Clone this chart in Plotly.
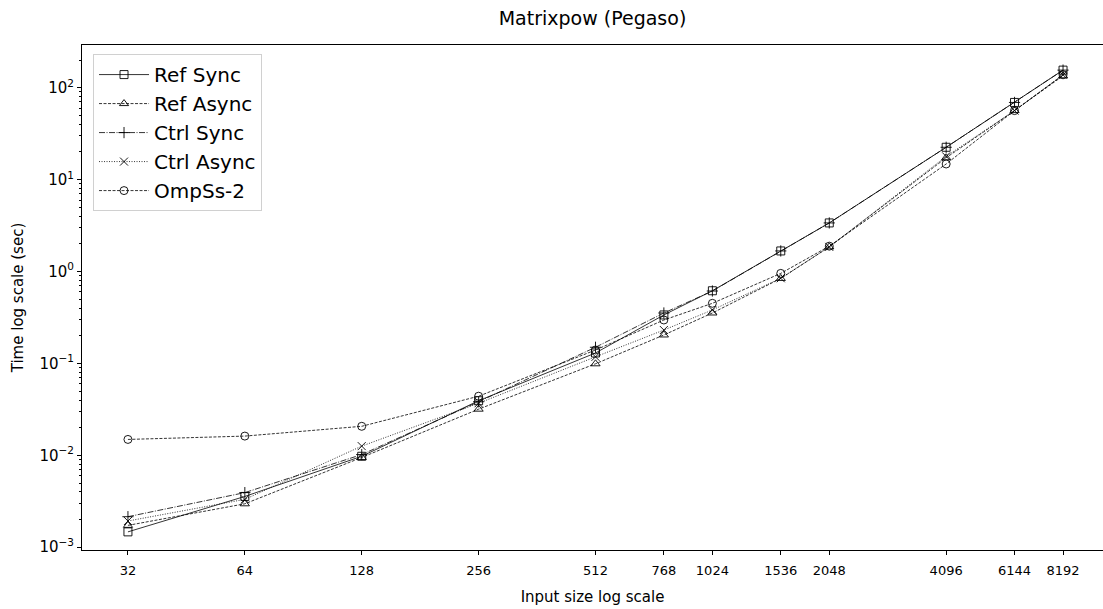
import plotly.graph_objects as go

sizes = [32, 64, 128, 256, 512, 768, 1024, 1536, 2048, 4096, 6144, 8192]
size_labels = [str(s) for s in sizes]

ref_sync = [1.47e-3, 3.57e-3, 9.77e-3, 0.0393, 0.130, 0.337, 0.618, 1.675, 3.38, 22.5, 69.2, 155.5]
ref_async = [1.73e-3, 2.97e-3, 9.48e-3, 0.0318, 0.0991, 0.204, 0.354, 0.841, 1.853, 17.3, 56.4, 134.9]
ctrl_sync = [2.15e-3, 3.93e-3, 0.0102, 0.0383, 0.150, 0.354, 0.614, 1.675, 3.38, 22.5, 69.2, 155.5]
ctrl_async = [1.93e-3, 3.32e-3, 0.0126, 0.0369, 0.118, 0.231, 0.382, 0.845, 1.853, 17.9, 56.4, 138.3]
ompss = [0.0149, 0.0162, 0.0207, 0.0440, 0.140, 0.297, 0.451, 0.955, 1.888, 14.8, 56.4, 138.3]

series = [
    ("Ref Sync", ref_sync, "square-open", "solid"),
    ("Ref Async", ref_async, "triangle-up-open", "3px,1.5px"),
    ("Ctrl Sync", ctrl_sync, "cross-thin-open", "6px,1.5px,1px,1.5px"),
    ("Ctrl Async", ctrl_async, "x-thin-open", "1px,1.5px"),
    ("OmpSs-2", ompss, "circle-open", "3px,1.5px"),
]

fig = go.Figure()
for name, vals, sym, dash in series:
    fig.add_trace(go.Scatter(
        x=sizes, y=vals, name=name, mode="lines+markers",
        line=dict(color="black", width=0.8, dash=dash),
        marker=dict(symbol=sym, size=8, color="black",
                    line=dict(color="black", width=0.9)),
    ))

ytick_vals = [10.0 ** e for e in range(-3, 3)]
ytick_text = ["10<sup>%s</sup>" % (str(e).replace("-", "\u2212")) for e in range(-3, 3)]
minor_vals = [m * 10.0 ** e for e in range(-4, 3) for m in range(2, 10)]

font = "DejaVu Sans"
fig.update_layout(
    width=1103, height=609,
    margin=dict(l=82, r=0, t=45, b=59),
    paper_bgcolor="white", plot_bgcolor="white",
    font=dict(family=font, color="black", size=13),
    title=dict(text="Matrixpow (Pegaso)", x=0.5, xref="paper", y=1 - 18 / 609,
               yanchor="middle", font=dict(size=19, family=font)),
    showlegend=True,
    legend=dict(x=0.0108, y=0.982, xanchor="left", yanchor="top",
                bordercolor="#d0d0d0", borderwidth=1, bgcolor="rgba(255,255,255,0.8)",
                font=dict(size=20, family=font), itemwidth=50),
    xaxis=dict(
        type="log", range=[1.3868, 4.0163],
        tickmode="array", tickvals=sizes, ticktext=size_labels,
        ticks="outside", ticklen=4, tickwidth=1, tickcolor="black",
        ticklabelstandoff=4,
        showgrid=False, zeroline=False,
        showline=True, linecolor="black", linewidth=1, mirror=True,
        tickfont=dict(size=13, family=font),
        title=dict(text="Input size log scale", font=dict(size=15, family=font), standoff=14),
    ),
    yaxis=dict(
        type="log", range=[-3.03, 2.465],
        tickmode="array", tickvals=ytick_vals, ticktext=ytick_text,
        ticks="outside", ticklen=4, tickwidth=1, tickcolor="black",
        minor=dict(tickmode="array", tickvals=minor_vals, ticks="outside", ticklen=2,
                   tickwidth=0.7, tickcolor="black", showgrid=False),
        showgrid=False, zeroline=False,
        showline=True, linecolor="black", linewidth=1, mirror=False,
        tickfont=dict(size=15, family=font),
        title=dict(text="Time log scale (sec)", font=dict(size=15, family=font), standoff=12),
    ),
)

fig.write_html("out.html")
